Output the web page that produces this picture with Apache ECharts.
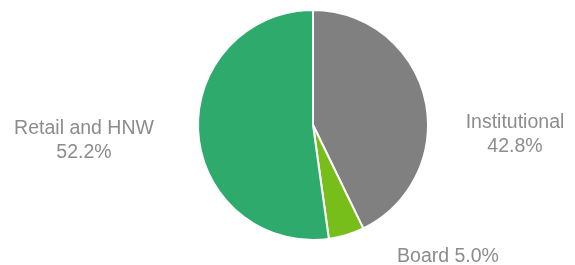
<!DOCTYPE html>
<html>
<head>
<meta charset="utf-8">
<script src="https://cdn.jsdelivr.net/npm/echarts@6/dist/echarts.min.js"></script>
<style>
  html, body { margin: 0; padding: 0; background: #fff; }
  #main { width: 575px; height: 265px; }
</style>
</head>
<body>
<div id="main"></div>
<script>
var categories = ['Institutional', 'Board', 'Retail and HNW'];
var shares = [42.8, 5.0, 52.2];
var colors = ['#808080', '#78be1a', '#2eaa6c'];

// where each label sits (center of text), matched to the reference
var labelSpots = [
  { x: 515, y: 135 },
  { x: 448, y: 257 },
  { x: 84, y: 141 }
];

var chart = echarts.init(document.getElementById('main'), null, { renderer: 'canvas' });

var option = {
  animation: false,
  series: [
    {
      type: 'pie',
      center: [313, 125],
      radius: 115,
      startAngle: 90,
      clockwise: true,
      data: categories.map(function (name, i) {
        return {
          name: name,
          value: shares[i],
          itemStyle: { color: colors[i] }
        };
      }),
      itemStyle: {
        borderColor: '#fff',
        borderWidth: 2
      },
      label: {
        show: true,
        position: 'outside',
        color: '#8c8c8c',
        fontSize: 19.5,
        lineHeight: 24,
        fontFamily: 'Liberation Sans, Arial, sans-serif',
        align: 'center',
        overflow: 'none',
        formatter: function (p) {
          var v = p.value.toFixed(1) + '%';
          return p.dataIndex === 1 ? p.name + ' ' + v : p.name + '\n' + v;
        }
      },
      labelLine: { show: false },
      labelLayout: function (params) {
        var p = labelSpots[params.dataIndex];
        return {
          x: p.x,
          y: p.y,
          align: 'center',
          verticalAlign: 'middle'
        };
      }
    }
  ]
};

chart.setOption(option);
</script>
</body>
</html>
